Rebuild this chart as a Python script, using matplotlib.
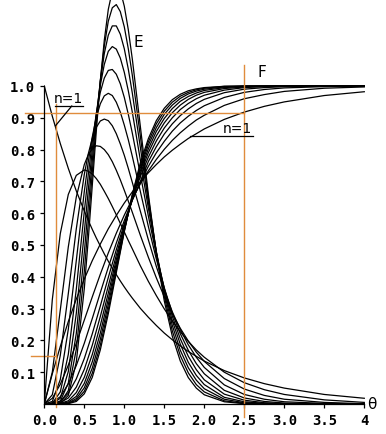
import matplotlib
matplotlib.use("Agg")
import matplotlib.pyplot as plt

# dimensionless time theta (sample points read along the x axis)
theta = [0, 0.1, 0.2, 0.3, 0.4, 0.5, 0.6, 0.7, 0.8, 0.9, 1.0,
         1.1, 1.2, 1.3, 1.4, 1.5, 1.6, 1.7, 1.8, 1.9, 2.0,
         2.25, 2.5, 2.75, 3.0, 3.5, 4.0]

# E curves are read more finely around the peaks
theta_e = [0, 0.1, 0.2, 0.3, 0.4, 0.5, 0.55, 0.6, 0.65, 0.7, 0.75, 0.8, 0.85,
           0.9, 0.95, 1.0, 1.05, 1.1, 1.2, 1.3, 1.4, 1.5, 1.6, 1.7, 1.8, 1.9,
           2.0, 2.25, 2.5, 2.75, 3.0, 3.5, 4.0]

# number of tanks for each curve
n_tanks = [1, 2, 3, 4, 5, 6, 7, 8, 9, 10]

# E(theta) curves, one row per n
e_curves = [
    [1.000, .905, .819, .741, .670, .607, .577, .549, .522, .497, .472, .449, .427, .407, .387, .368, .350, .333, .301, .273, .247, .223, .202, .183, .165, .150, .135, .105, .082, .064, .050, .030, .018],
    [0, .328, .536, .659, .719, .736, .732, .723, .709, .691, .669, .646, .621, .595, .568, .541, .514, .488, .435, .386, .341, .299, .261, .227, .197, .170, .147, .100, .067, .045, .030, .013, .005],
    [0, .100, .296, .494, .651, .753, .784, .803, .812, .810, .800, .784, .762, .735, .705, .672, .638, .603, .531, .462, .397, .337, .284, .238, .198, .163, .134, .080, .047, .027, .015, .005, .001],
    [0, .029, .153, .347, .551, .722, .787, .836, .870, .890, .896, .891, .875, .850, .818, .782, .741, .697, .607, .517, .433, .357, .290, .234, .186, .147, .115, .060, .030, .015, .007, .002, 0],
    [0, .008, .077, .235, .451, .668, .762, .840, .901, .944, .969, .977, .970, .949, .918, .877, .831, .779, .669, .559, .456, .365, .286, .221, .169, .127, .095, .043, .019, .008, .003, 0, 0],
    [0, .002, .038, .156, .361, .605, .722, .826, .913, .980, 1.025, 1.049, 1.052, 1.037, 1.007, .964, .911, .852, .722, .592, .470, .364, .276, .205, .150, .108, .076, .031, .012, .004, .001, 0, 0],
    [0, .001, .018, .102, .285, .540, .674, .800, .912, 1.002, 1.068, 1.109, 1.124, 1.116, 1.088, 1.043, .985, .918, .768, .617, .478, .359, .262, .188, .131, .090, .061, .021, .007, .002, .001, 0, 0],
    [0, 0, .009, .066, .222, .476, .622, .767, .900, 1.014, 1.102, 1.160, 1.189, 1.189, 1.163, 1.117, 1.053, .978, .808, .636, .480, .350, .247, .169, .114, .075, .048, .015, .004, .001, 0, 0, 0],
    [0, 0, .004, .042, .172, .417, .570, .729, .882, 1.017, 1.126, 1.204, 1.246, 1.256, 1.234, 1.186, 1.117, 1.034, .843, .650, .478, .338, .230, .152, .098, .061, .038, .010, .002, .001, 0, 0, 0],
    [0, 0, .002, .027, .132, .363, .519, .688, .858, 1.014, 1.144, 1.241, 1.299, 1.317, 1.300, 1.251, 1.177, 1.085, .874, .661, .473, .324, .213, .135, .083, .050, .029, .007, .001, 0, 0, 0, 0],
]

# F(theta) curves, one row per n
f_curves = [
    [0, .095, .181, .259, .330, .393, .451, .503, .551, .593, .632, .667, .699, .727, .753, .777, .798, .817, .835, .850, .865, .895, .918, .936, .950, .970, .982],
    [0, .018, .062, .122, .191, .264, .337, .408, .475, .537, .594, .645, .692, .733, .769, .801, .829, .853, .874, .893, .908, .939, .960, .973, .983, .993, .997],
    [0, .004, .023, .063, .121, .191, .269, .350, .430, .506, .577, .641, .697, .747, .790, .826, .858, .884, .905, .923, .938, .964, .980, .989, .994, .998, 1.0],
    [0, .001, .009, .034, .079, .143, .221, .308, .398, .485, .567, .641, .698, .762, .809, .849, .881, .907, .928, .945, .958, .979, .990, .995, .998, 1.0, 1.0],
    [0, 0, .004, .019, .053, .109, .185, .275, .371, .468, .560, .643, .715, .776, .827, .868, .900, .926, .945, .960, .971, .987, .995, .998, .999, 1.0, 1.0],
    [0, 0, .002, .010, .036, .084, .156, .247, .349, .454, .554, .645, .724, .790, .843, .884, .916, .940, .958, .971, .980, .992, .997, .999, 1.0, 1.0, 1.0],
    [0, 0, .001, .006, .024, .065, .133, .223, .330, .442, .550, .649, .733, .802, .857, .898, .929, .952, .967, .978, .986, .995, .999, 1.0, 1.0, 1.0, 1.0],
    [0, 0, 0, .003, .017, .051, .113, .203, .313, .431, .547, .652, .742, .814, .869, .911, .940, .961, .975, .984, .990, .997, .999, 1.0, 1.0, 1.0, 1.0],
    [0, 0, 0, .002, .012, .040, .097, .185, .297, .421, .544, .656, .750, .824, .881, .921, .949, .968, .980, .988, .993, .999, 1.0, 1.0, 1.0, 1.0, 1.0],
    [0, 0, 0, .001, .008, .032, .084, .170, .284, .413, .542, .659, .758, .834, .891, .930, .957, .974, .985, .991, .995, .999, 1.0, 1.0, 1.0, 1.0, 1.0],
]

# orange read-off guides for n=1: theta values and matching F values
guide_theta = [0.15, 2.5]
guide_f = [0.15, 0.915]

x_ticks = [0, 0.5, 1.0, 1.5, 2.0, 2.5, 3.0, 3.5, 4.0]
x_labels = ["0.0", "0.5", "1.0", "1.5", "2.0", "2.5", "3.0", "3.5", "4"]
y_ticks = [0.1, 0.2, 0.3, 0.4, 0.5, 0.6, 0.7, 0.8, 0.9, 1.0]
y_labels = ["0.1", "0.2", "0.3", "0.4", "0.5", "0.6", "0.7", "0.8", "0.9", "1.0"]

orange = "#E08C3C"

fig = plt.figure(figsize=(3.86, 4.35), dpi=100)
ax = fig.add_axes([44.3 / 386, 30 / 435, 336 / 386, 405 / 435])

for row in e_curves:
    ax.plot(theta_e, row, color="black", lw=0.9)
for row in f_curves:
    ax.plot(theta, row, color="black", lw=0.9)

ax.set_xlim(0, 4.2)
ax.set_ylim(0, 405 / 318)

for side in ["top", "right"]:
    ax.spines[side].set_visible(False)
ax.spines["left"].set_bounds(0, 1.0)
ax.spines["bottom"].set_bounds(0, 4.0)
ax.spines["left"].set_linewidth(0.9)
ax.spines["bottom"].set_linewidth(0.9)

ax.set_xticks(x_ticks)
ax.set_xticklabels(x_labels)
ax.set_yticks(y_ticks)
ax.set_yticklabels(y_labels)
ax.tick_params(direction="out", length=3, width=0.9, pad=3.5)
for lab in ax.get_xticklabels() + ax.get_yticklabels():
    lab.set_family("DejaVu Sans Mono")
    lab.set_fontweight("bold")
    lab.set_fontsize(10)

# guide lines
ax.plot([guide_theta[0], guide_theta[0]], [-0.01, 0.943], color=orange, lw=1, clip_on=False)
ax.plot([-0.17, guide_theta[0]], [guide_f[0], guide_f[0]], color=orange, lw=1, clip_on=False)
ax.plot([guide_theta[1], guide_theta[1]], [-0.04, 1.066], color=orange, lw=1, clip_on=False)
ax.plot([-0.24, guide_theta[1]], [guide_f[1], guide_f[1]], color=orange, lw=1, clip_on=False)

# labels
ax.text(1.17, 1.14, "E", fontsize=11, ha="center", va="center")
ax.text(2.72, 1.047, "F", fontsize=11, ha="center", va="center")
ax.text(4.1, 0.0, "θ", fontsize=11, ha="center", va="center", clip_on=False)

ax.text(0.30, 0.963, "n=1", fontsize=10, ha="center", va="center")
ax.plot([0.134, 0.485], [0.937, 0.937], color="black", lw=0.9)
ax.plot([0.343, 0.14], [0.937, 0.875], color="black", lw=0.9)

ax.text(2.415, 0.867, "n=1", fontsize=10, ha="center", va="center")
ax.plot([1.82, 2.605], [0.844, 0.844], color="black", lw=0.9)

fig.savefig("out.png", dpi=100)
